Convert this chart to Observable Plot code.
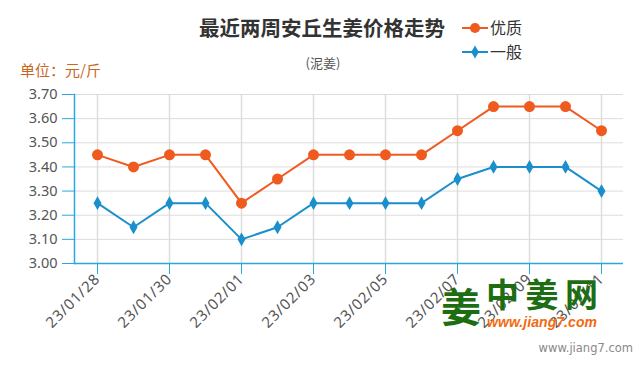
<!DOCTYPE html>
<html>
<head>
<meta charset="utf-8">
<script src="https://cdn.jsdelivr.net/npm/d3@7"></script>
<script src="https://cdn.jsdelivr.net/npm/@observablehq/plot@0.6"></script>
<style>
  html, body { margin: 0; padding: 0; background: #fff; }
  #chart svg { display: block; }
</style>
</head>
<body>
<div id="chart"></div>
<script>
const dates = ["23/01/28","23/01/29","23/01/30","23/01/31","23/02/01","23/02/02","23/02/03","23/02/04","23/02/05","23/02/06","23/02/07","23/02/08","23/02/09","23/02/10","23/02/11"];
const premium = [3.45,3.40,3.45,3.45,3.25,3.35,3.45,3.45,3.45,3.45,3.55,3.65,3.65,3.65,3.55];
const normal  = [3.25,3.15,3.25,3.25,3.10,3.15,3.25,3.25,3.25,3.25,3.35,3.40,3.40,3.40,3.30];
const seriesNames = ["优质","一般"];
const colors = ["#ef5a1f","#1b8fcc"];
const yTicks = [3.0,3.1,3.2,3.3,3.4,3.5,3.6,3.7];
const xTicks = dates.filter((d, i) => i % 2 === 0);
const title = "最近两周安丘生姜价格走势";
const subtitle = "(泥姜)";
const unitLabel = "单位：元/斤";

const axisColor = "#29a8e0";
const gridColor = "#dcdcdc";
const font = "'Noto Sans', 'Noto Sans CJK SC', sans-serif";

const rows = [];
dates.forEach((d, i) => {
  rows.push({date: d, value: premium[i], series: seriesNames[0]});
  rows.push({date: d, value: normal[i], series: seriesNames[1]});
});
const prem = rows.filter(r => r.series === seriesNames[0]);
const norm = rows.filter(r => r.series === seriesNames[1]);

const svg = Plot.plot({
  width: 640,
  height: 370,
  marginLeft: 74,
  marginRight: 17,
  marginTop: 94,
  marginBottom: 107,
  style: {fontFamily: font, fontSize: "14px", color: "#555", background: "#fff"},
  x: {type: "point", domain: dates, padding: 0.5},
  y: {domain: [3.0, 3.7]},
  marks: [
    Plot.ruleY(yTicks, {stroke: gridColor, strokeWidth: 1}),
    Plot.ruleX(xTicks, {stroke: gridColor, strokeWidth: 1.5}),
    Plot.axisY({ticks: yTicks, tickSize: 12, tickPadding: 5, stroke: axisColor, tickFormat: d => d.toFixed(2), fill: "#555", fontSize: 14.5, label: null}),
    Plot.axisX({ticks: xTicks, tickSize: 11, tickPadding: 2, tickRotate: -45, stroke: axisColor, fill: "#555", fontSize: 15, label: null}),
    Plot.frame({anchor: "left", stroke: axisColor, strokeWidth: 1.5}),
    Plot.ruleY([3.0], {stroke: axisColor, strokeWidth: 1.5}),
    Plot.lineY(prem, {x: "date", y: "value", stroke: colors[0], strokeWidth: 2}),
    Plot.dot(prem, {x: "date", y: "value", fill: colors[0], r: 5.5, symbol: "circle"}),
    Plot.lineY(norm, {x: "date", y: "value", stroke: colors[1], strokeWidth: 2}),
    Plot.dot(norm, {x: "date", y: "value", fill: colors[1], r: 4.2, symbol: "diamond"})
  ]
});
document.getElementById("chart").appendChild(svg);

const s = d3.select(svg);
// letter-spacing for x tick labels to match wider reference glyphs
s.selectAll("g[aria-label='x-axis tick label'] text").style("letter-spacing", "0.8px");

const g = s.append("g").style("font-family", "'Noto Sans CJK SC', 'Noto Sans', sans-serif")
  .attr("text-anchor", "start");

g.append("text").attr("x", 322).attr("y", 36).attr("text-anchor", "middle")
  .attr("font-size", 20.5).attr("font-weight", "bold").attr("fill", "#333").text(title);
g.append("text").attr("x", 323).attr("y", 68).attr("text-anchor", "middle")
  .attr("font-size", 13).attr("fill", "#555").text(subtitle);
g.append("text").attr("x", 20).attr("y", 76).attr("text-anchor", "start")
  .attr("font-size", 15).attr("fill", "#c8661f").text(unitLabel);

// legend
const legendY = [28, 52];
seriesNames.forEach((name, i) => {
  const y = legendY[i];
  g.append("line").attr("x1", 462).attr("x2", 488).attr("y1", y).attr("y2", y)
    .attr("stroke", colors[i]).attr("stroke-width", 2);
  g.append("path").attr("transform", `translate(475,${y})`)
    .attr("d", d3.symbol(i === 0 ? d3.symbolCircle : d3.symbolDiamond, i === 0 ? 80 : 50)())
    .attr("fill", colors[i]);
  g.append("text").attr("x", 490).attr("y", y + 6).attr("text-anchor", "start").attr("font-size", 16)
    .attr("fill", "#333").text(name);
});

// watermark logo
g.append("text").attr("x", 441).attr("y", 322).attr("text-anchor", "start").attr("font-size", 40).attr("font-weight", "bold")
  .attr("fill", "#1d6e12").text("姜");
g.append("text").attr("x", 486).attr("y", 307).attr("text-anchor", "start").attr("font-size", 33).attr("font-weight", "bold")
  .attr("fill", "#1d6e12").attr("textLength", 112).text("中姜网");
g.append("text").attr("x", 487).attr("y", 327).attr("text-anchor", "start").attr("font-size", 14).attr("font-weight", "bold")
  .attr("font-style", "italic").attr("fill", "#f26a10").attr("textLength", 110)
  .style("font-family", "'Liberation Sans', sans-serif").text("www.jiang7.com");
g.append("text").attr("x", 633).attr("y", 352).attr("text-anchor", "end").attr("font-size", 11.5)
  .attr("fill", "#888").style("font-family", "'DejaVu Sans', sans-serif").text("www.jiang7.com");
</script>
</body>
</html>
